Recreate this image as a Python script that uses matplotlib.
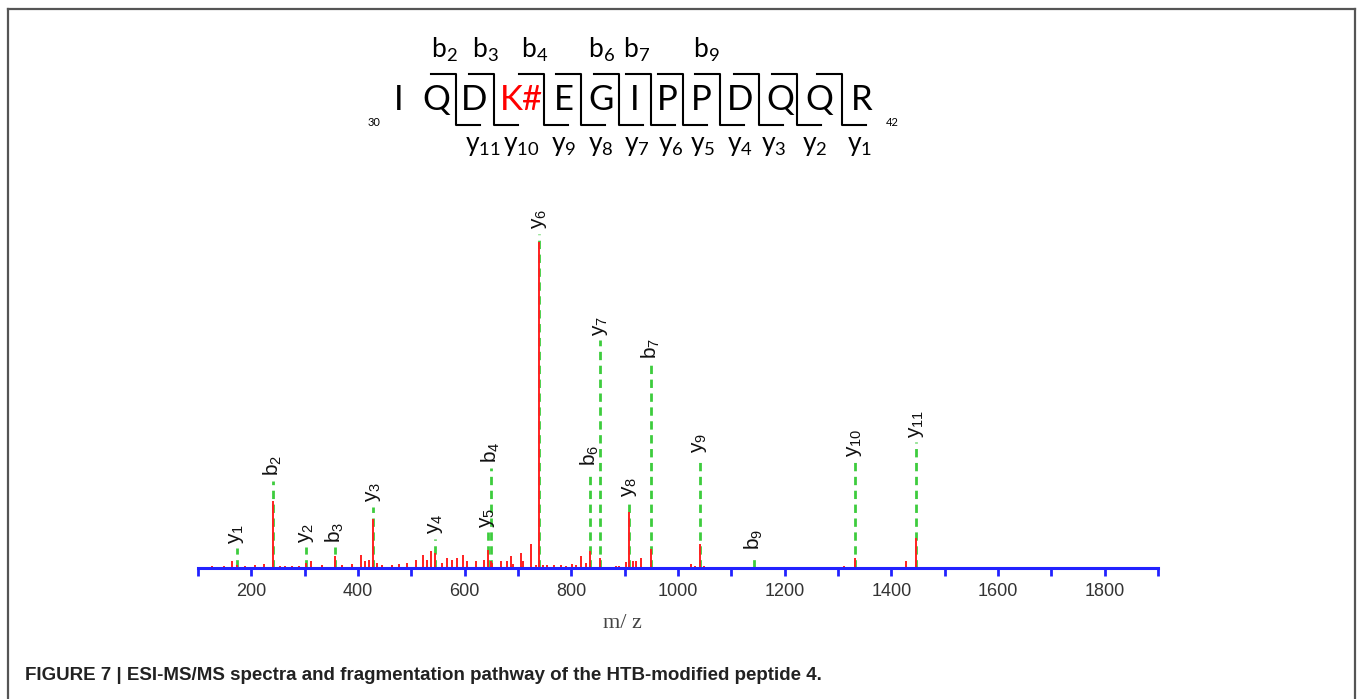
import matplotlib
matplotlib.use("Agg")
import matplotlib.pyplot as plt
from matplotlib.lines import Line2D

W, H = 1357, 699

# fragment ions (label, m/z, red peak intensity, top of green marker)
ion_labels = ["y1", "b2", "y2", "b3", "y3", "y4", "y5", "b4", "y6",
              "b6", "y7", "y8", "b7", "y9", "b9", "y10", "y11"]
ion_mz = [173, 241, 303, 356, 429, 545, 643, 650, 740,
          835, 854, 909, 949, 1041, 1143, 1331, 1447]
ion_int = [1.0, 20.5, 1.5, 3.6, 14.9, 4.6, 5.6, 2.0, 100,
           5.1, 3.1, 17.2, 5.8, 7.4, 0.4, 3.1, 9.2]
ion_top = [6.0, 26.8, 6.3, 6.3, 18.6, 9.0, 10.9, 30.8, 102.6,
           29.9, 69.8, 20.4, 62.7, 33.9, 4.1, 32.4, 38.5]

# unassigned background peaks
noise_mz = [127, 148, 164, 189, 207, 223, 254, 264, 276, 289, 311, 333, 370,
            389, 406, 414, 420, 436, 445, 464, 477, 492, 508, 521, 530, 536,
            558, 567, 577, 586, 596, 605, 621, 636, 652, 668, 680, 686, 690,
            705, 710, 724, 733, 746, 755, 768, 780, 790, 802, 808, 818, 827,
            884, 890, 902, 915, 921, 931, 1024, 1031, 1049, 1115, 1265, 1281,
            1297, 1312, 1337, 1387, 1400, 1413, 1428, 1484, 1835]
noise_int = [0.5, 0.7, 2.0, 0.7, 0.8, 1.2, 0.7, 0.7, 0.5, 0.7, 2.0, 0.8, 1.0,
             1.2, 4.1, 2.0, 2.6, 1.5, 1.0, 1.0, 1.2, 1.5, 2.6, 4.1, 2.6, 5.1,
             1.5, 3.1, 2.6, 3.1, 4.1, 2.0, 2.0, 2.6, 1.5, 2.0, 2.2, 3.6, 1.2,
             4.6, 2.0, 7.4, 1.0, 1.0, 0.8, 0.8, 1.0, 0.7, 1.2, 1.0, 3.6, 1.5,
             0.5, 0.5, 1.8, 2.0, 2.2, 3.1, 1.2, 0.7, 0.5, 0.3, 0.3, 0.3,
             0.3, 0.7, 0.3, 0.3, 0.3, 0.3, 2.0, 0.3, 0.3]

# peptide sequence diagram
residues = ["I", "Q", "D", "K#", "E", "G", "I", "P", "P", "D", "Q", "Q", "R"]
residue_x = [399, 436, 474, 521, 564, 601, 635, 667, 701, 740, 780, 819, 862]
break_x = [456, 494, 544, 581, 619, 651, 683, 720, 759, 797, 842]
b_names = ["2", "3", "4", "6", "7", "9"]
b_x = [444, 485, 535, 601, 637, 706]
y_names = ["11", "10", "9", "8", "7", "6", "5", "4", "3", "2", "1"]
y_x = [483, 521, 564, 601, 637, 671, 703, 740, 774, 815, 860]


def fx(px):
    return px / W


def fy(py):
    return 1 - py / H


fig = plt.figure(figsize=(W / 100, H / 100), dpi=100)

# frame round the figure
for xs, ys in [([8, 8], [699, 8.5]), ([8, 1355], [8.5, 8.5]), ([1355, 1355], [8.5, 699])]:
    fig.add_artist(Line2D([fx(x) for x in xs], [fy(y) for y in ys],
                          color="#555555", lw=1.6))

# spectrum
ax = fig.add_axes([fx(198), fy(568), 960 / W, (568 - 170) / H])
ax.set_xlim(100, 1900)
ax.set_ylim(0, 398 / 3.26)

ax.vlines(ion_mz, 0, ion_top, colors="#3dcc3d", linestyles=(0, (3, 2)),
          lw=2.0, zorder=1.5)
ax.vlines(noise_mz, 0, noise_int, colors="#ff2020", lw=1.4, zorder=2)
ax.vlines(ion_mz, 0, ion_int, colors="#ff2020", lw=1.4, zorder=2)

for lab, mz, top in zip(ion_labels, ion_mz, ion_top):
    txt = "$\\mathregular{%s_{%s}}$" % (lab[0], lab[1:])
    ax.text(mz, top + 1.5, txt, rotation=90, ha="center", va="bottom",
            fontsize=15, family="Liberation Sans", color="#111111")

for s in ["top", "left", "right"]:
    ax.spines[s].set_visible(False)
ax.spines["bottom"].set_color("#2222ff")
ax.spines["bottom"].set_linewidth(2.2)
ax.set_yticks([])
ax.set_xticks(range(100, 2000, 100))
ax.set_xticklabels([str(v) if v % 200 == 0 and v < 1900 else "" for v in range(100, 2000, 100)])
ax.tick_params(axis="x", direction="out", length=6, width=2, color="#2222ff",
               labelsize=13, labelcolor="#333333", pad=5)
for t in ax.get_xticklabels():
    t.set_family("Liberation Sans")
ax.set_xlabel("m/ z", family="Liberation Serif", fontsize=16, color="#444444")
ax.xaxis.set_label_coords((622 - 198) / 960, -0.115)
ax.patch.set_visible(False)

# sequence with fragmentation marks
for res, x in zip(residues, residue_x):
    fig.text(fx(x), fy(100), res, ha="center", va="center", fontsize=25,
             family="Lato", color="#ff0000" if res == "K#" else "black")
for x in break_x:
    fig.add_artist(Line2D([fx(x - 25), fx(x), fx(x), fx(x + 24)],
                          [fy(74), fy(74), fy(125), fy(125)],
                          color="black", lw=1.5))
for n, x in zip(b_names, b_x):
    fig.text(fx(x), fy(50), "$\\mathregular{b_{%s}}$" % n, ha="center",
             va="center", fontsize=19, family="Lato")
for n, x in zip(y_names, y_x):
    fig.text(fx(x), fy(145), "$\\mathregular{y_{%s}}$" % n, ha="center",
             va="center", fontsize=19, family="Lato")
fig.text(fx(374), fy(122), "30", ha="center", va="center", fontsize=8, family="Lato")
fig.text(fx(892), fy(122), "42", ha="center", va="center", fontsize=8, family="Lato")

fig.text(fx(25), fy(675), "FIGURE 7 | ESI-MS/MS spectra and fragmentation pathway of the HTB-modified peptide 4.",
         ha="left", va="center", fontsize=13.5, weight="bold",
         family="Liberation Sans", color="#222222")

fig.savefig("out.png", dpi=100)
